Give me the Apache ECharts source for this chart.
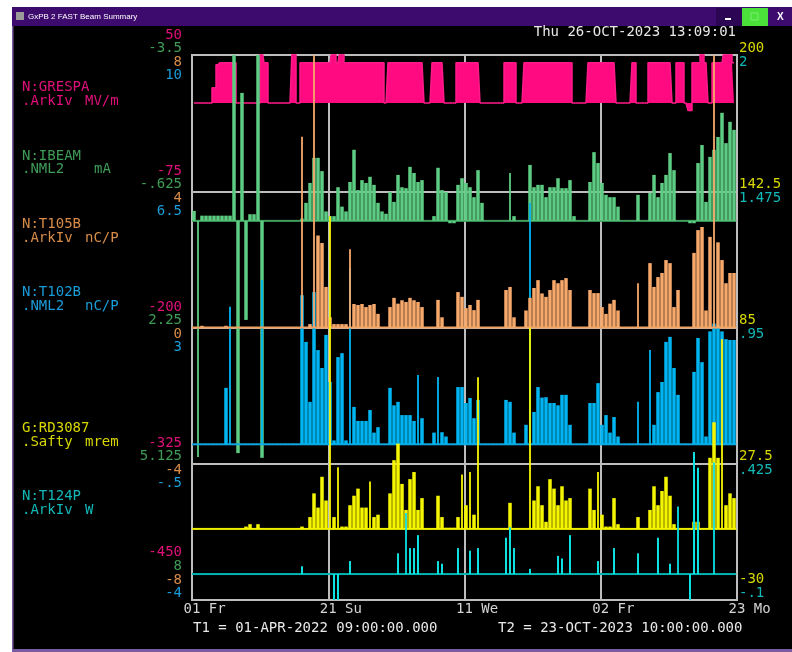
<!DOCTYPE html>
<html><head><meta charset="utf-8">
<script src="https://cdn.jsdelivr.net/npm/echarts@6/dist/echarts.min.js"></script>
<style>html,body{margin:0;padding:0;background:#000;}#c{width:792px;height:652px;}</style>
</head><body><div id="c"></div><script>
// ---- axis ticks / labels ----
const xTickLabels = ['01 Fr','21 Su','11 We','02 Fr','23 Mo'];
const spanDays = 570;          // T1 -> T2
const xTickStep = 142.5;
const sampleDays = 4.1835;     // spacing of the samples below

const pinkTicks   = [50, -75, -200, -325, -450];
const greenTicks  = [-3.5, -0.625, 2.25, 5.125, 8];
const orangeTicks = [8, 4, 0, -4, -8];
const blueTicks   = [10, 6.5, 3, -0.5, -4];
const yellowTicks = [200, 142.5, 85, 27.5, -30];
const cyanTicks   = [2, 1.475, 0.95, 0.425, -0.1];

// ---- series values (one sample every sampleDays) ----
const grespa = [ // N:GRESPA MV/m
 6,6,6,6,6,20,41,43,43,43,
 43,6,6,6,6,6,6,55,43,6,
 6,6,6,6,6,55,6,43,43,43,
 43,43,43,43,43,55,43,55,43,43,
 43,43,43,43,43,43,43,43,6,43,
 43,43,43,43,43,43,43,43,6,6,
 43,43,43,6,6,6,43,43,43,43,
 43,43,6,6,6,6,6,6,43,43,
 43,6,6,43,43,43,43,43,43,43,
 43,43,43,43,43,6,6,6,6,43,
 43,43,43,43,43,43,6,6,6,6,
 43,6,6,6,43,43,43,43,43,43,
 6,43,43,6,-1,43,43,55,43,6,
 43,43,43,55,55,43];
const ibeam = [ // N:IBEAM mA
 -0.21,4.98,-0.11,-0.11,-0.11,-0.11,-0.11,-0.11,-0.11,-0.11,
 -3.6,4.9,-2.7,2.09,-0.14,-0.14,-3.6,5.0,0,0,
 0,0,0,0,0,0,0,-0.05,-0.38,-0.80,
 -1.33,-1.33,-1.05,-0.2,-0.1,-0.1,-0.71,-0.3,-0.2,-0.82,
 -1.50,-0.65,-0.86,-0.80,-0.93,-0.76,-0.38,-0.2,-0.15,-0.61,
 -0.40,-0.97,-0.71,-0.69,-1.14,-1.01,-0.82,-0.86,0,0,
 -0.1,-1.12,-0.65,-0.61,0.05,0.05,-0.76,-0.90,-0.80,-0.71,
 -0.50,-1.07,-0.38,0,0,0,0,0,0,-1.01,
 -0.1,0,0,0,-1.18,-0.71,-0.76,-0.76,-0.50,-0.71,
 -0.71,-0.90,-0.69,-0.69,-0.86,-0.1,0,0,0,-0.82,
 -1.45,-1.22,-0.80,-0.55,-0.50,-0.50,-0.3,0,0,0,
 0,-0.55,0,0,-0.59,-0.97,-0.50,-0.80,-0.97,-1.43,
 -1.07,0,0,0,0.05,0.05,-1.22,-1.60,-0.4,-1.35,
 -1.5,-1.77,-2.28,-1.64,-2.09,-1.92];
const t105b = [ // N:T105B nC/P
 0,0,0.05,0,0,0,0,0,0.05,0,
 0,0,0,0,0,0,0,0,0,0,
 0,0,0,0,0,0,0,5.6,0,0.1,
 8.5,2.7,2.48,1.19,0.3,0.1,0.1,0.1,0.1,2.3,
 0.69,0.66,0.69,0.6,0.66,0.69,0.4,0,0,0.6,
 0.87,0.7,0.8,0.75,0.87,0.8,0.75,0.6,0,0,
 0,0.81,0.3,0,0,0,1.04,0.9,0.57,0.66,
 0.51,0.81,0,0,0,0,0,0,1.10,1.19,
 0.3,0,0,0.5,0.87,1.16,1.39,1.0,0.9,1.10,
 1.39,1.30,1.39,1.45,1.10,0,0,0,0,1.10,
 1.01,1.01,0.6,0.4,0.7,0.81,0.5,0,0,0,
 0,1.30,0,0,1.89,1.19,1.48,1.6,1.98,1.89,
 0.6,1.10,0,0,0,2.19,2.86,2.95,0.5,2.66,
 8.5,2.5,1.98,1.3,1.6,1.6];
const t102b = [ // N:T102B nC/P
 0,0,0,0,0,0,0,0,1.45,3.53,
 0,0,0,0,0,0,0,4.22,0,0,
 0,0,0,0,0,0,0,3.83,2.63,1.09,
 3.91,2.42,1.96,2.81,1.6,0.1,2.24,2.34,0.1,4.53,
 0.96,0.6,0.6,0.6,0.88,0.3,0.44,0,0,1.45,
 1.0,1.09,0.75,0.75,0.75,0.6,1.78,0.67,0,0,
 0.3,1.73,0.31,0.2,0,0,1.47,1.47,1.06,1.19,
 0.67,1.14,0,0,0,0,0,0,1.14,1.09,
 0.3,0,0,0.5,6.2,0.83,1.47,1.2,1.21,1.06,
 1.06,1.0,1.27,1.27,0.5,0,0,0,0,1.06,
 1.06,1.57,0.5,0.75,0.3,0.7,0.2,0,0,0,
 0,1.09,0,0,2.42,0.5,1.34,1.6,2.63,2.76,
 1.96,1.27,0,0,0,1.86,2.73,2.11,0.2,2.9,
 3.1,3.06,2.9,2.7,2.68,2.68];
const rd3087 = [ // G:RD3087 mrem
 0,0,0,0,0,0,0,0,0,0,
 0,0,0,1,2,0,2,0,0,0,
 0,0,0,0,0,0,0,1,0,5,
 15,9,22,12,132,5,26,1,1,10,
 14,17,9,9,20,5,6,0,0,15,
 29,36,19,8,21,24,8,13,0,0,
 0,14,5,0.5,0.5,0.5,5,23,10,24,
 6,64,0,0,0,0,0,0,0,11,
 0,0,0,0,85,12,18,10,3,21,
 17,10,18,12,13,0,0,0,0,17,
 8,24,6,1,1,13,2,0,0,0,
 0,5,0,0,8,18,10,16,22,14,
 2,0,0,0,0,3,3,0,0,30,
 45,30,80,10,15,13];
const t124p = [ // N:T124P W
 0,0,0,0,0,0,0,0,0,0,
 0,0,0,0,0,0,0,0,0,0,
 0,0,0,0,0,0,0,0.03,0,0,
 0,0,0,0,0,-0.15,-0.15,0,0,0.05,
 0,0,0,0,0,0,0,0,0,0,
 0,0.08,0,0.235,0.1,0.1,0.15,0,0,0,
 0,0.05,0.04,0,0,0,0.1,0,0,0.09,
 0,0.1,0,0,0,0,0,0,0.14,0.18,
 0.1,0,0,0,0.02,0,0,0,0,0,
 0,0.07,0.06,0,0.15,0,0,0,0,0,
 0,0.05,0,0,0,0.1,0,0,0,0,
 0,0.08,0,0,0,0,0.14,0,0,0.04,
 0,0.26,0,0,-0.12,0.47,0.41,0,0,0,
 0.43,0,0,0,0,0];
const grespaBase = 6;

// ---- chart ----
const FONT = '"DejaVu Sans Mono","Liberation Mono",monospace';
const C = {pink:'#e0107a', green:'#3f9c56', orange:'#d88c48', blue:'#1a9cd8', yellow:'#d8d800', cyan:'#12b8b8'};
const fmt = v => String(+Number(v).toFixed(4)).replace(/^(-?)0\./, '$1.');

// shift: negative = label above the tick line, positive = below (px)
function axis(t, pos, inverse, vals, color, shift, margin) {
  return {
    type:'value', position:pos, min:Math.min(t[0], t[4]), max:Math.max(t[0], t[4]), inverse:inverse,
    axisLine:{show:false}, axisTick:{show:false, customValues:vals}, splitLine:{show:false},
    axisLabel:{customValues:vals, formatter:fmt, color:color, fontFamily:FONT, fontSize:14,
      margin:margin, verticalAlign: shift < 0 ? 'bottom' : 'top', lineHeight: Math.abs(shift) * 2}
  };
}

const yAxes = [
  {type:'value', min:0, max:4, interval:1, axisLine:{show:false}, axisTick:{show:false}, axisLabel:{show:false},
   splitLine:{show:true, lineStyle:{color:'#bdbdbd', width:2}}},
  axis(pinkTicks,   'left',  false, pinkTicks.slice(0,4),   C.pink,   -20, 10),
  axis(greenTicks,  'left',  true,  greenTicks.slice(0,4),  C.green,  -7,  10),
  axis(orangeTicks, 'left',  false, orangeTicks.slice(0,4), C.orange, 7,   10),
  axis(blueTicks,   'left',  false, blueTicks.slice(0,4),   C.blue,   20,  10),
  axis(yellowTicks, 'right', false, yellowTicks.slice(0,4), C.yellow, -7,  2),
  axis(cyanTicks,   'right', false, cyanTicks.slice(0,4),   C.cyan,   7,   2),
  axis(pinkTicks,   'left',  false, [pinkTicks[4]],   C.pink,   -48, 10),
  axis(greenTicks,  'left',  true,  [greenTicks[4]],  C.green,  -34, 10),
  axis(orangeTicks, 'left',  false, [orangeTicks[4]], C.orange, -20, 10),
  axis(blueTicks,   'left',  false, [blueTicks[4]],   C.blue,   -7,  10),
  axis(yellowTicks, 'right', false, [yellowTicks[4]], C.yellow, -21, 2),
  axis(cyanTicks,   'right', false, [cyanTicks[4]],   C.cyan,   -7,  2)
];

const xy = arr => arr.map((v, i) => [(i + 0.5) * sampleDays, v]);

function stepLine(name, arr, ai, lineColor, fill, origin, z) {
  return {name, type:'line', yAxisIndex:ai, data:xy(arr), showSymbol:false, symbol:'none', step:'middle',
    z:z, lineStyle:{color:lineColor, width:1.5}, itemStyle:{color:lineColor},
    areaStyle:{color:fill, opacity:1, origin:origin}, clip:true};
}
// vertical spike per sample, from the trace baseline, plus the baseline itself
function spikes(name, arr, ai, baseColor, fill, base, w, z) {
  return {name, type:'custom', yAxisIndex:ai, z:z, clip:true, data:xy(arr),
    encode:{x:0, y:1},
    renderItem(params, api) {
      const i = params.dataIndex;
      const x = api.value(0), v = api.value(1);
      const b0 = api.coord([x - sampleDays / 2, base]);
      const b1 = api.coord([x + sampleDays / 2, base]);
      const top = api.coord([x, v]);
      const kids = [{type:'rect', shape:{x:b0[0], y:b0[1] - 1, width:b1[0] - b0[0] + 0.3, height:2}, style:{fill:baseColor}}];
      const h = top[1] - b0[1];
      if (Math.abs(h) >= 0.8) {
        const nb = Math.max(Math.abs((i > 0 ? arr[i - 1] : base) - base), Math.abs((i < arr.length - 1 ? arr[i + 1] : base) - base));
        const isolated = Math.abs(h) > 40 && Math.abs(v - base) > 2.2 * nb;
        const bw = isolated ? 1.8 : w;
        kids.push({type:'rect', shape:{x:top[0] - bw / 2, y:Math.min(top[1], b0[1]), width:bw, height:Math.abs(h)}, style:{fill:fill}});
      }
      return {type:'group', children:kids};
    }};
}

const txt = (x, y, s, color, align) => ({type:'text', x, y, silent:true,
  style:{text:s, fill:color, font:'14px ' + FONT, verticalAlign:'middle', textVerticalAlign:'middle',
    align:align || 'left', textAlign:align || 'left'}});

const graphics = [
  {type:'rect', shape:{x:0, y:0, width:12, height:652}, style:{fill:'#ffffff'}},
  {type:'rect', shape:{x:0, y:0, width:792, height:7}, style:{fill:'#ffffff'}},
  {type:'rect', shape:{x:12, y:7, width:1.5, height:645}, style:{fill:'#7a5aa0'}},
  {type:'rect', shape:{x:12, y:7, width:780, height:19}, style:{fill:'#3d0a6e'}},
  {type:'rect', shape:{x:16, y:12, width:8, height:8}, style:{fill:'#9a9a9a'}},
  {type:'text', x:28, y:17, style:{text:'GxPB 2 FAST Beam Summary', fill:'#ffffff', font:'8px "Liberation Sans",sans-serif', verticalAlign:'middle', textVerticalAlign:'middle'}},
  {type:'rect', shape:{x:716, y:8, width:26, height:18}, style:{fill:'#2c0654'}},
  {type:'rect', shape:{x:725, y:18, width:6, height:2}, style:{fill:'#ffffff'}},
  {type:'rect', shape:{x:742, y:8, width:26, height:18}, style:{fill:'#4be03a'}},
  {type:'rect', shape:{x:751, y:13, width:7, height:7}, style:{fill:'none', stroke:'#7cf070', lineWidth:1}},
  {type:'text', x:777, y:17, style:{text:'X', fill:'#ffffff', font:'bold 10px "Liberation Sans",sans-serif', verticalAlign:'middle', textVerticalAlign:'middle'}},
  {type:'rect', shape:{x:12, y:649, width:780, height:3}, style:{fill:'#7a5aa0'}},
  txt(736, 32, 'Thu 26-OCT-2023 13:09:01', '#e8e8e8', 'right'),
  txt(193, 628, 'T1 = 01-APR-2022 09:00:00.000', '#e8e8e8'),
  txt(498, 628, 'T2 = 23-OCT-2023 10:00:00.000', '#e8e8e8'),
  txt(22, 87, 'N:GRESPA', C.pink), txt(22, 101, '.ArkIv', C.pink), txt(85, 101, 'MV/m', C.pink),
  txt(22, 156, 'N:IBEAM', C.green), txt(22, 169, '.NML2', C.green), txt(94, 169, 'mA', C.green),
  txt(22, 224, 'N:T105B', C.orange), txt(22, 238, '.ArkIv', C.orange), txt(85, 238, 'nC/P', C.orange),
  txt(22, 292, 'N:T102B', C.blue), txt(22, 306, '.NML2', C.blue), txt(85, 306, 'nC/P', C.blue),
  txt(22, 428, 'G:RD3087', C.yellow), txt(22, 442, '.Safty', C.yellow), txt(85, 442, 'mrem', C.yellow),
  txt(22, 496, 'N:T124P', C.cyan), txt(22, 510, '.ArkIv', C.cyan), txt(85, 510, 'W', C.cyan)
];

const chart = echarts.init(document.getElementById('c'), null, {renderer:'canvas'});
chart.setOption({
  backgroundColor:'#000000',
  animation:false,
  grid:{left:192, right:55, top:55, bottom:52, show:true, borderColor:'#c4c4c4', borderWidth:2, backgroundColor:'transparent'},
  xAxis:{type:'value', min:0, max:spanDays, interval:xTickStep,
    axisLine:{show:false}, axisTick:{show:false},
    splitLine:{show:true, lineStyle:{color:'#bdbdbd', width:2}},
    axisLabel:{color:'#d4d4d4', fontFamily:FONT, fontSize:14, margin:2,
      formatter: v => '   ' + xTickLabels[Math.round(v / xTickStep)]}},
  yAxis: yAxes,
  series:[
    stepLine('N:GRESPA', grespa, 1, '#ff1a8a', '#ff0a80', grespaBase, 2),
    spikes('N:IBEAM',  ibeam,  2, '#3f9f5c', '#5ccd82', 0, 3.5, 3),
    spikes('N:T102B',  t102b,  4, '#12a6de', '#00b6f2', 0, 3.5, 4),
    spikes('N:T105B',  t105b,  3, '#ec9f5e', '#f7a96b', 0, 3.5, 5),
    spikes('G:RD3087', rd3087, 5, '#eeee00', '#f6f600', 0, 3.5, 6),
    spikes('N:T124P',  t124p,  6, '#00b4b4', '#10e0e0', 0, 2, 7)
  ],
  graphic:{elements:graphics}
});
</script></body></html>
